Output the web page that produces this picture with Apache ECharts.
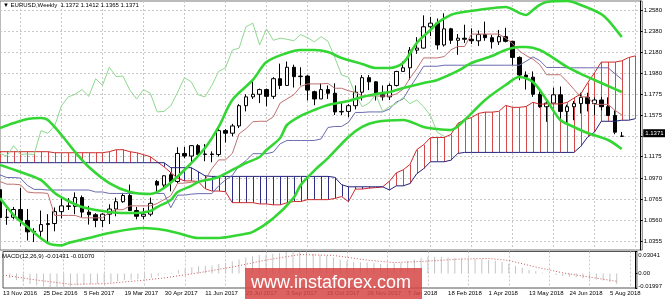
<!DOCTYPE html>
<html><head><meta charset="utf-8">
<script src="https://cdn.jsdelivr.net/npm/echarts@6/dist/echarts.min.js"></script>
<style>html,body{margin:0;padding:0;background:#fff}#c{width:665px;height:299px}</style>
</head><body><div id="c"></div>
<script>
// ---- time axis ----
const tickLabels = ['13 Nov 2016','25 Dec 2016','5 Feb 2017','19 Mar 2017','30 Apr 2017','11 Jun 2017','23 Jul 2017','3 Sep 2017','15 Oct 2017','26 Nov 2017','7 Jan 2018','18 Feb 2018','1 Apr 2018','13 May 2018','24 Jun 2018','5 Aug 2018'];
const slotCount = 95; // weekly slots incl. 3 future weeks used by the shifted cloud
// ---- weekly candles EURUSD ----
const open  = [1.0856,1.0589,1.0590,1.0665,1.0560,1.0450,1.0455,1.0520,1.0530,1.0645,1.0700,1.0695,1.0780,1.0640,1.0615,1.0560,1.0620,1.0670,1.0740,1.0800,1.0655,1.0600,1.0620,1.0935,1.0900,1.1000,1.0935,1.1205,1.1180,1.1280,1.1195,1.1200,1.1195,1.1425,1.1400,1.1470,1.1665,1.1750,1.1775,1.1820,1.1755,1.1925,1.1860,1.2035,1.1945,1.1950,1.1800,1.1730,1.1820,1.1785,1.1605,1.1610,1.1665,1.1795,1.1935,1.1895,1.1770,1.1750,1.1860,1.1995,1.2030,1.2200,1.2220,1.2425,1.2460,1.2250,1.2405,1.2295,1.2315,1.2305,1.2290,1.2350,1.2320,1.2280,1.2330,1.2285,1.2130,1.1960,1.1940,1.1775,1.1655,1.1690,1.1770,1.1610,1.1655,1.1685,1.1745,1.1685,1.1720,1.1655,1.1570,1.1372];
const high  = [1.0873,1.0670,1.0690,1.0875,1.0670,1.0485,1.0655,1.0620,1.0685,1.0775,1.0775,1.0830,1.0800,1.0700,1.0630,1.0630,1.0715,1.0780,1.0825,1.0905,1.0690,1.0680,1.0780,1.0950,1.0995,1.1025,1.1265,1.1268,1.1285,1.1295,1.1295,1.1225,1.1445,1.1440,1.1490,1.1680,1.1775,1.1910,1.1830,1.1830,1.1940,1.2070,1.2090,1.2060,1.2035,1.1960,1.1810,1.1880,1.1860,1.1880,1.1690,1.1680,1.1860,1.1960,1.1960,1.1900,1.1860,1.1880,1.2000,1.2090,1.2230,1.2325,1.2535,1.2520,1.2505,1.2555,1.2415,1.2355,1.2445,1.2410,1.2390,1.2475,1.2345,1.2395,1.2415,1.2290,1.2140,1.1995,1.1995,1.1805,1.1725,1.1840,1.1850,1.1675,1.1710,1.1790,1.1790,1.1745,1.1750,1.1745,1.1620,1.1412];
const low   = [1.0568,1.0518,1.0570,1.0505,1.0367,1.0352,1.0400,1.0340,1.0455,1.0580,1.0660,1.0620,1.0590,1.0520,1.0495,1.0495,1.0525,1.0600,1.0730,1.0650,1.0570,1.0570,1.0600,1.0820,1.0880,1.0840,1.0920,1.1160,1.1110,1.1195,1.1130,1.1120,1.1175,1.1310,1.1370,1.1450,1.1610,1.1730,1.1690,1.1660,1.1730,1.1825,1.1860,1.1840,1.1860,1.1715,1.1670,1.1730,1.1730,1.1575,1.1575,1.1555,1.1630,1.1715,1.1815,1.1715,1.1715,1.1720,1.1850,1.1995,1.1915,1.2165,1.2215,1.2335,1.2205,1.2235,1.2260,1.2155,1.2270,1.2260,1.2240,1.2290,1.2215,1.2250,1.2275,1.2055,1.1910,1.1820,1.1750,1.1645,1.1510,1.1690,1.1540,1.1505,1.1525,1.1590,1.1610,1.1575,1.1620,1.1570,1.1390,1.1365];
const close = [1.0589,1.0590,1.0665,1.0560,1.0450,1.0455,1.0520,1.0530,1.0645,1.0700,1.0695,1.0780,1.0640,1.0615,1.0560,1.0620,1.0670,1.0740,1.0800,1.0655,1.0600,1.0620,1.0725,1.0900,1.0990,1.0935,1.1205,1.1180,1.1280,1.1195,1.1200,1.1195,1.1425,1.1400,1.1470,1.1665,1.1750,1.1775,1.1820,1.1755,1.1925,1.1860,1.2035,1.1945,1.1950,1.1815,1.1730,1.1820,1.1785,1.1605,1.1610,1.1665,1.1795,1.1935,1.1895,1.1770,1.1750,1.1860,1.1995,1.2030,1.2200,1.2220,1.2425,1.2460,1.2250,1.2405,1.2295,1.2315,1.2305,1.2290,1.2350,1.2320,1.2280,1.2330,1.2285,1.2130,1.1960,1.1940,1.1775,1.1655,1.1690,1.1770,1.1610,1.1655,1.1685,1.1745,1.1685,1.1720,1.1655,1.1570,1.1410,1.1371];
// ---- Ichimoku ----
const tenkan = [1.0934,1.0909,1.0909,1.0903,1.0834,1.0826,1.0826,1.0820,1.0608,1.0608,1.0608,1.0608,1.0585,1.0585,1.0585,1.0585,1.0640,1.0663,1.0663,1.0700,1.0700,1.0700,1.0700,1.0723,1.0760,1.0798,1.0918,1.0919,1.0928,1.0933,1.0948,1.1058,1.1143,1.1143,1.1205,1.1395,1.1443,1.1510,1.1515,1.1515,1.1558,1.1690,1.1730,1.1770,1.1850,1.1875,1.1875,1.1875,1.1880,1.1833,1.1833,1.1808,1.1795,1.1758,1.1758,1.1758,1.1758,1.1758,1.1778,1.1823,1.1930,1.2020,1.2125,1.2125,1.2125,1.2138,1.2203,1.2235,1.2235,1.2355,1.2355,1.2355,1.2355,1.2355,1.2315,1.2265,1.2193,1.2148,1.2113,1.2060,1.1963,1.1963,1.1963,1.1898,1.1823,1.1750,1.1750,1.1678,1.1678,1.1678,1.1620,1.1578];
const kijun = [1.0998,1.0973,1.0973,1.0967,1.0898,1.0859,1.0859,1.0853,1.0853,1.0853,1.0853,1.0853,1.0853,1.0853,1.0834,1.0834,1.0820,1.0820,1.0820,1.0820,1.0820,1.0820,1.0820,1.0820,1.0820,1.0683,1.0803,1.0804,1.0813,1.0818,1.0818,1.0818,1.0893,1.0950,1.0993,1.1088,1.1135,1.1203,1.1203,1.1203,1.1218,1.1298,1.1330,1.1330,1.1330,1.1330,1.1330,1.1345,1.1455,1.1465,1.1465,1.1505,1.1600,1.1600,1.1605,1.1605,1.1605,1.1633,1.1700,1.1730,1.1840,1.1940,1.2045,1.2045,1.2045,1.2055,1.2055,1.2055,1.2055,1.2055,1.2055,1.2055,1.2055,1.2055,1.2055,1.2055,1.2055,1.2093,1.2135,1.2100,1.2033,1.2033,1.2033,1.2030,1.2030,1.2030,1.2030,1.2030,1.2030,1.2030,1.1973,1.1920];
const senkouA = [1.1222,1.1222,1.1222,1.1222,1.1222,1.1222,1.1222,1.1222,1.1212,1.1212,1.1212,1.1212,1.1212,1.1212,1.1212,1.1212,1.1222,1.1241,1.1241,1.1222,1.1212,1.1193,1.1174,1.1125,1.1077,1.1020,1.0966,1.0941,1.0941,1.0935,1.0866,1.0843,1.0843,1.0837,1.0731,1.0731,1.0731,1.0731,1.0719,1.0719,1.0710,1.0710,1.0730,1.0742,1.0742,1.0760,1.0760,1.0760,1.0760,1.0772,1.0790,1.0741,1.0861,1.0862,1.0871,1.0876,1.0883,1.0938,1.1018,1.1047,1.1099,1.1242,1.1289,1.1357,1.1359,1.1359,1.1388,1.1494,1.1530,1.1550,1.1590,1.1603,1.1603,1.1610,1.1668,1.1649,1.1649,1.1657,1.1698,1.1679,1.1682,1.1682,1.1682,1.1696,1.1739,1.1777,1.1885,1.1980,1.2085,1.2085,1.2085,1.2097,1.2129,1.2145];
const senkouB = [1.1116,1.1116,1.1116,1.1116,1.1116,1.1116,1.1116,1.1116,1.1116,1.1116,1.1116,1.1116,1.1116,1.1116,1.1116,1.1116,1.1116,1.1116,1.1116,1.1116,1.1116,1.1116,1.1116,1.1116,1.1116,1.1068,1.1068,1.1068,1.1068,1.1030,1.0990,1.0984,1.0984,1.0984,1.0984,1.0984,1.0984,1.0984,1.0984,1.0984,1.0984,1.0984,1.0984,1.0984,1.0984,1.0984,1.0984,1.0984,1.0984,1.0975,1.0904,1.0884,1.0884,1.0884,1.0884,1.0884,1.0884,1.0853,1.0893,1.0893,1.0915,1.1010,1.1058,1.1125,1.1125,1.1125,1.1140,1.1205,1.1215,1.1215,1.1215,1.1215,1.1215,1.1215,1.1215,1.1215,1.1215,1.1215,1.1215,1.1215,1.1215,1.1215,1.1215,1.1215,1.1215,1.1273,1.1363,1.1410,1.1515,1.1515,1.1515,1.1525,1.1525,1.1540];
const chikouShift = 26;
// ---- Bollinger bands, [week index, price] ----
const bbUpper = [[0,1.1450],[2,1.1498],[4,1.1537],[6,1.1547],[7,1.1527],[9,1.1383],[11,1.1219],[13,1.1075],[16,1.0920],[19,1.0834],[22,1.0815],[24,1.0872],[27,1.1046],[30,1.1257],[32,1.1460],[34,1.1720],[37,1.1913],[39,1.2086],[42,1.2173],[44,1.2202],[46,1.2202],[48,1.2182],[50,1.2124],[53,1.2067],[55,1.2028],[57,1.2028],[59,1.2076],[61,1.2269],[63,1.2394],[64,1.2462],[66,1.2539],[67,1.2558],[70,1.2587],[74,1.2616],[76,1.2558],[77,1.2539],[78,1.2587],[79,1.2635],[80,1.2664],[83,1.2673],[85,1.2635],[88,1.2548],[89,1.2490],[91,1.2327]];
const bbMiddle = [[0,1.1094],[3,1.1026],[6,1.0949],[8,1.0824],[10,1.0747],[12,1.0689],[14,1.0660],[16,1.0641],[18,1.0631],[20,1.0631],[22,1.0651],[23,1.0689],[25,1.0757],[26,1.0834],[28,1.0892],[29,1.0930],[31,1.0959],[32,1.0978],[34,1.1046],[36,1.1113],[38,1.1171],[39,1.1238],[41,1.1354],[42,1.1479],[44,1.1566],[46,1.1624],[48,1.1672],[51,1.1710],[53,1.1749],[55,1.1778],[57,1.1797],[59,1.1835],[62,1.1884],[64,1.1913],[67,1.2000],[69,1.2076],[72,1.2144],[74,1.2202],[76,1.2230],[77,1.2230],[79,1.2202],[81,1.2124],[83,1.2038],[85,1.1971],[87,1.1913],[89,1.1855],[91,1.1797]];
const bbLower = [[0,1.0776],[2,1.0612],[4,1.0497],[7,1.0342],[9,1.0320],[10,1.0342],[13,1.0391],[16,1.0439],[21,1.0487],[24,1.0468],[26,1.0439],[29,1.0391],[32,1.0391],[35,1.0420],[37,1.0449],[40,1.0580],[43,1.0780],[44,1.0900],[46,1.1040],[48,1.1160],[51,1.1364],[53,1.1460],[55,1.1508],[59,1.1527],[62,1.1460],[64,1.1440],[66,1.1431],[68,1.1527],[71,1.1720],[74,1.1864],[76,1.1941],[78,1.1893],[80,1.1720],[82,1.1527],[84,1.1460],[86,1.1402],[89,1.1335],[91,1.1248]];
// ---- MACD(12,26,9) ----
const macdMain = [-0.0035,-0.0062,-0.0090,-0.0117,-0.0145,-0.0166,-0.0179,-0.0190,-0.0195,-0.0190,-0.0180,-0.0165,-0.0155,-0.0148,-0.0140,-0.0132,-0.0120,-0.0105,-0.0092,-0.0085,-0.0080,-0.0072,-0.0058,-0.0032,-0.0010,0.0012,0.0045,0.0066,0.0088,0.0100,0.0107,0.0112,0.0132,0.0148,0.0168,0.0195,0.0218,0.0240,0.0255,0.0262,0.0272,0.0282,0.0296,0.0304,0.0302,0.0290,0.0272,0.0258,0.0245,0.0220,0.0192,0.0168,0.0156,0.0155,0.0152,0.0143,0.0133,0.0132,0.0138,0.0150,0.0172,0.0192,0.0218,0.0232,0.0230,0.0228,0.0222,0.0215,0.0208,0.0202,0.0200,0.0196,0.0188,0.0178,0.0160,0.0135,0.0105,0.0080,0.0052,0.0030,0.0012,0.0000,-0.0020,-0.0034,-0.0046,-0.0053,-0.0066,-0.0074,-0.0082,-0.0096,-0.0118,-0.0143];
const macdSignal = [[0,-0.0021],[5,-0.0090],[10,-0.0149],[15,-0.0140],[20,-0.0100],[24,-0.0060],[29,0.0010],[34,0.0090],[39,0.0186],[44,0.0262],[49,0.0250],[54,0.0185],[58,0.0150],[63,0.0172],[68,0.0200],[72,0.0208],[75,0.0180],[79,0.0090],[83,0.0010],[87,-0.0050],[91,-0.0107]];
// ---- price scale labels ----
const priceTicks = [1.2580,1.2380,1.2180,1.1980,1.1775,1.1575,1.1175,1.0970,1.0765,1.0560,1.0355];
const priceGrid  = [1.2580,1.2380,1.2180,1.1980,1.1775,1.1575,1.1373,1.1175,1.0970,1.0765,1.0560,1.0355];
const macdTicks = [0.03041,0,-0.01997];
const header = '\u25BC EURUSD,Weekly  1.1372 1.1412 1.1365 1.1371';
const macdTitle = 'MACD(12,26,9) -0.01431 -0.01070';

// ---------------- build ----------------
const cats = Array.from({length: slotCount}, (_, i) => String(i));
const candles = open.map((o, i) => [o, close[i], low[i], high[i]]);
const chikou = close.slice(chikouShift).map((c, i) => [i, c]);
const cloud = senkouA.map((a, i) => [i, a, senkouB[i]]);
const lastClose = close[close.length - 1];

const FONT = 'Liberation Sans, Arial, sans-serif';
const step = 6.862;
const gridLeft = -1.45;
const gridWidth = (slotCount - 1) * step;
const gridColor = '#c8c8c8';

const chart = echarts.init(document.getElementById('c'), null, {renderer: 'canvas'});
const lineS = (data, color, width, extra) => Object.assign({
  type: 'line', data, symbol: 'none', showSymbol: false, silent: true,
  lineStyle: {color, width}, itemStyle: {color}, animation: false, z: 3
}, extra || {});

chart.setOption({
  animation: false,
  backgroundColor: '#fff',
  textStyle: {fontFamily: FONT},
  grid: [
    {left: gridLeft, top: 1, width: gridWidth, height: 249, show: true, borderColor: '#777', borderWidth: 1, backgroundColor: 'transparent'},
    {left: gridLeft, top: 251.5, width: gridWidth, height: 36.5, show: true, borderColor: '#555', borderWidth: 1, backgroundColor: 'transparent'}
  ],
  xAxis: [
    {type: 'category', gridIndex: 0, data: cats, boundaryGap: false,
     axisLine: {show: false}, axisTick: {show: false}, axisLabel: {show: false},
     splitLine: {show: true, interval: (i) => i % 6 === 3, lineStyle: {color: gridColor, type: [2, 2], width: 1}}},
    {type: 'category', gridIndex: 1, data: cats, boundaryGap: false,
     axisLine: {show: false}, axisTick: {show: false},
     axisLabel: {show: true, interval: (i) => i % 6 === 0 && i / 6 < tickLabels.length, align: 'left',
       formatter: (v) => tickLabels[Number(v) / 6] || '', fontSize: 6, color: '#000', margin: 2.5, fontFamily: FONT},
     splitLine: {show: true, interval: (i) => i % 6 === 3, lineStyle: {color: gridColor, type: [2, 2], width: 1}}}
  ],
  yAxis: [
    {type: 'value', gridIndex: 0, position: 'right', offset: -1.6, min: 1.02751, max: 1.26734, scale: true,
     axisLine: {show: true, lineStyle: {color: '#000', width: 1}},
     axisTick: {show: true, length: 2, lineStyle: {color: '#000'}, customValues: priceGrid},
     axisLabel: {show: true, customValues: priceTicks, formatter: (v) => v.toFixed(4), fontSize: 6, color: '#000', margin: 3, fontFamily: FONT},
     splitLine: {show: true, lineStyle: {color: gridColor, type: [2, 2], width: 1}}},
    {type: 'value', gridIndex: 1, position: 'right', offset: -1.6, min: -0.01997, max: 0.03041,
     axisLine: {show: true, lineStyle: {color: '#000', width: 1}},
     axisTick: {show: true, length: 2, lineStyle: {color: '#000'}, customValues: macdTicks},
     axisLabel: {show: true, customValues: macdTicks, fontSize: 6, color: '#000', margin: 3, fontFamily: FONT,
       formatter: (v) => v === 0 ? '0.00' : (v > 0 ? '{t|' + v.toFixed(5) + '}' : '{b|' + v.toFixed(5) + '}'),
       rich: {t: {fontSize: 6, padding: [8, 0, 0, 0]}, b: {fontSize: 6, padding: [0, 0, 4, 0]}}},
     splitLine: {show: false}}
  ],
  series: [
    {type: 'custom', xAxisIndex: 0, yAxisIndex: 0, data: cloud, silent: true, z: 1, clip: true,
     renderItem: (params, api) => {
       const i = api.value(0), a = api.value(1), b = api.value(2);
       const pa = api.coord([i, a]), pb = api.coord([i, b]);
       const x = Math.round(pa[0]) + 0.5;
       return {type: 'line', shape: {x1: x, y1: pa[1], x2: x, y2: pb[1]},
               style: {stroke: a >= b ? '#d44a4a' : '#2e2e86', lineWidth: 1}};
     }},
    {type: 'candlestick', xAxisIndex: 0, yAxisIndex: 0, data: candles, barWidth: 4, z: 2, silent: true,
     itemStyle: {color: '#ffffff', color0: '#000000', borderColor: '#000000', borderColor0: '#000000', borderWidth: 1}},
    lineS(senkouA.map((v, i) => [i, v]), '#cc2a2a', 1),
    lineS(senkouB.map((v, i) => [i, v]), '#23237a', 1),
    lineS(tenkan.map((v, i) => [i, v]), '#c07070', 1),
    lineS(kijun.map((v, i) => [i, v]), '#6a6ab0', 1, {clip: false,
      markLine: {silent: true, symbol: ['none', 'none'], animation: false,
        data: [{yAxis: lastClose, lineStyle: {color: 'rgba(0,0,0,0)', width: 0, opacity: 1},
          label: {show: true, position: 'end', distance: 1, formatter: lastClose.toFixed(4), opacity: 1,
                  backgroundColor: '#000', color: '#fff', fontSize: 6, padding: [1, 2, 1, 2], fontFamily: FONT}}]}}),
    lineS(chikou, '#8fd88f', 1),
    lineS(bbUpper, '#33d633', 2.6, {smooth: 0.3}),
    lineS(bbMiddle, '#33d633', 2.6, {smooth: 0.3}),
    lineS(bbLower, '#33d633', 2.6, {smooth: 0.3}),
    {type: 'bar', xAxisIndex: 1, yAxisIndex: 1, data: macdMain, barWidth: 1, silent: true,
     itemStyle: {color: '#c4c4c4'}, z: 2},
    lineS(macdSignal, '#cc5a5a', 1, {xAxisIndex: 1, yAxisIndex: 1, lineStyle: {color: '#cc5a5a', width: 1, type: [1, 2]}})
  ],
  graphic: [
    {type: 'text', left: 3, top: 2, z: 50, silent: true,
     style: {text: header, fontSize: 6, fill: '#000', font: '6px ' + FONT}},
    {type: 'text', left: 2, top: 253, z: 50, silent: true,
     style: {text: macdTitle, fontSize: 6, fill: '#000', font: '6px ' + FONT}},
    {type: 'rect', shape: {x: 245, y: 268, width: 177, height: 31}, z: 100, silent: true,
     style: {fill: 'rgba(214,72,72,0.86)'}},
    {type: 'text', x: 331, y: 283.5, z: 101, silent: true,
     style: {text: 'www.instaforex.com', fill: '#fff', font: '18px ' + FONT, textAlign: 'center', textVerticalAlign: 'middle'}}
  ]
});
</script>
</body></html>
